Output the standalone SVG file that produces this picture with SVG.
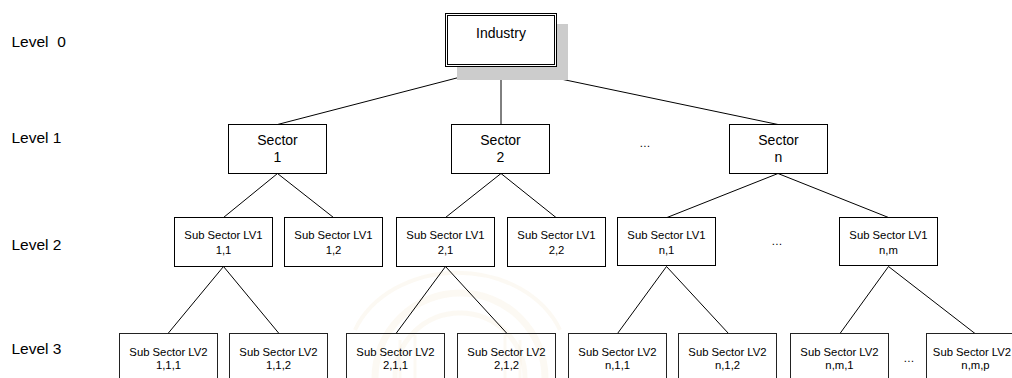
<svg xmlns="http://www.w3.org/2000/svg" width="1012" height="378" viewBox="0 0 1012 378">
<style>
.bg{fill:#ffffff}
.box{fill:#ffffff;stroke:#000000;stroke-width:1}
.box3{fill:none;stroke:#222222;stroke-width:1}
.t{font-family:"Liberation Sans",Arial,sans-serif;fill:#000000;text-anchor:middle}
.t14{font-size:14px}
.t11{font-size:11.3px}
.lvl{font-family:"Liberation Sans",Arial,sans-serif;font-size:15.5px;fill:#000000;white-space:pre}
.c line{stroke:#000000;stroke-width:1;fill:none}
.wm{fill:none;stroke:#f2e2c2;opacity:0.2}
</style>
<rect class="bg" x="0" y="0" width="1012" height="378"/>
<g id="watermark">
<path class="wm" stroke-width="7" d="M375 378 A85 85 0 0 1 545 378"/>
<path class="wm" stroke-width="5" d="M395 378 A65 65 0 0 1 525 378"/>
<path class="wm" stroke-width="4" d="M355 330 A110 90 0 0 1 560 330"/>
<path class="wm" stroke-width="3" d="M400 340 L400 378 M415 335 L415 378 M505 335 L505 378 M520 340 L520 378"/>
</g>
<g id="levels">
<text class="lvl" x="11.5" y="46.5">Level  0</text>
<text class="lvl" x="11.5" y="142.5">Level 1</text>
<text class="lvl" x="11.5" y="249.5">Level 2</text>
<text class="lvl" x="11.5" y="354">Level 3</text>
</g>
<g id="connectors" class="c">
<line x1="501" y1="66.5" x2="277.5" y2="124.5"/>
<line x1="501" y1="66.5" x2="501" y2="124.5"/>
<line x1="501" y1="66.5" x2="778" y2="124.5"/>
<line x1="277.5" y1="173.5" x2="223.5" y2="217.5"/>
<line x1="277.5" y1="173.5" x2="333.5" y2="217.5"/>
<line x1="501" y1="173.5" x2="445.5" y2="217.5"/>
<line x1="501" y1="173.5" x2="556" y2="217.5"/>
<line x1="778" y1="173.5" x2="667" y2="217.5"/>
<line x1="778" y1="173.5" x2="888.5" y2="217.5"/>
<line x1="223.5" y1="266.5" x2="168" y2="333.5"/>
<line x1="223.5" y1="266.5" x2="279" y2="333.5"/>
<line x1="445.5" y1="266.5" x2="396" y2="333.5"/>
<line x1="445.5" y1="266.5" x2="507" y2="333.5"/>
<line x1="666.5" y1="266.5" x2="617.5" y2="333.5"/>
<line x1="666.5" y1="266.5" x2="728.5" y2="333.5"/>
<line x1="888.5" y1="266.5" x2="840" y2="333.5"/>
<line x1="888.5" y1="266.5" x2="975" y2="333.5"/>
</g>
<g id="industry">
<rect x="457" y="24" width="111" height="56" fill="#cccccc"/>
<rect class="box" x="445.5" y="13.5" width="111" height="53"/>
<rect class="box" x="447.5" y="15.5" width="107" height="49"/>
<text class="t t14" x="501" y="37.5">Industry</text>
</g>
<g id="sector1">
<rect class="box" x="228.5" y="124.5" width="98" height="49"/>
<text class="t t14" x="277.5" y="144.5">Sector</text>
<text class="t t14" x="277.5" y="162">1</text>
</g>
<g id="sector2">
<rect class="box" x="451.5" y="124.5" width="98" height="49"/>
<text class="t t14" x="500.5" y="144.5">Sector</text>
<text class="t t14" x="500.5" y="162">2</text>
</g>
<g id="dots1"><text class="t t11" x="645" y="147">…</text></g>
<g id="sectorn">
<rect class="box" x="729.5" y="124.5" width="98" height="49"/>
<text class="t t14" x="778.5" y="144.5">Sector</text>
<text class="t t14" x="778.5" y="162">n</text>
</g>
<g id="sub11">
<rect class="box" x="174.5" y="217.5" width="98" height="49"/>
<text class="t t11" x="223.5" y="239">Sub Sector LV1</text>
<text class="t t11" x="223.5" y="253.5">1,1</text>
</g>
<g id="sub12">
<rect class="box" x="284.5" y="217.5" width="98" height="49"/>
<text class="t t11" x="333.5" y="239">Sub Sector LV1</text>
<text class="t t11" x="333.5" y="253.5">1,2</text>
</g>
<g id="sub21">
<rect class="box" x="396.5" y="217.5" width="98" height="49"/>
<text class="t t11" x="445.5" y="239">Sub Sector LV1</text>
<text class="t t11" x="445.5" y="253.5">2,1</text>
</g>
<g id="sub22">
<rect class="box" x="507.5" y="217.5" width="98" height="49"/>
<text class="t t11" x="556.5" y="239">Sub Sector LV1</text>
<text class="t t11" x="556.5" y="253.5">2,2</text>
</g>
<g id="subn1">
<rect class="box" x="617.5" y="217.5" width="98" height="48"/>
<text class="t t11" x="666.5" y="239">Sub Sector LV1</text>
<text class="t t11" x="666.5" y="253.5">n,1</text>
</g>
<g id="dots2"><text class="t t11" x="777" y="245">…</text></g>
<g id="subnm">
<rect class="box" x="839.5" y="217.5" width="98" height="48"/>
<text class="t t11" x="888.5" y="239">Sub Sector LV1</text>
<text class="t t11" x="888.5" y="253.5">n,m</text>
</g>
<g id="sub111">
<rect class="box3" x="119.5" y="333.5" width="98" height="60"/>
<text class="t t11" x="168.5" y="355.5">Sub Sector LV2</text>
<text class="t t11" x="168.5" y="369">1,1,1</text>
</g>
<g id="sub112">
<rect class="box3" x="229.5" y="333.5" width="98" height="60"/>
<text class="t t11" x="278.5" y="355.5">Sub Sector LV2</text>
<text class="t t11" x="278.5" y="369">1,1,2</text>
</g>
<g id="sub211">
<rect class="box3" x="346.5" y="333.5" width="98" height="60"/>
<text class="t t11" x="395.5" y="355.5">Sub Sector LV2</text>
<text class="t t11" x="395.5" y="369">2,1,1</text>
</g>
<g id="sub212">
<rect class="box3" x="457.5" y="333.5" width="98" height="60"/>
<text class="t t11" x="506.5" y="355.5">Sub Sector LV2</text>
<text class="t t11" x="506.5" y="369">2,1,2</text>
</g>
<g id="subn11">
<rect class="box3" x="568.5" y="333.5" width="98" height="60"/>
<text class="t t11" x="617.5" y="355.5">Sub Sector LV2</text>
<text class="t t11" x="617.5" y="369">n,1,1</text>
</g>
<g id="subn12">
<rect class="box3" x="678.5" y="333.5" width="98" height="60"/>
<text class="t t11" x="727.5" y="355.5">Sub Sector LV2</text>
<text class="t t11" x="727.5" y="369">n,1,2</text>
</g>
<g id="subnm1">
<rect class="box3" x="790.5" y="333.5" width="98" height="60"/>
<text class="t t11" x="839.5" y="355.5">Sub Sector LV2</text>
<text class="t t11" x="839.5" y="369">n,m,1</text>
</g>
<g id="dots3"><text class="t t11" x="909" y="362">…</text></g>
<g id="subnmp">
<rect class="box3" x="926.5" y="333.5" width="98" height="60"/>
<text class="t t11" x="972" y="355.5">Sub Sector LV2</text>
<text class="t t11" x="975.5" y="369">n,m,p</text>
</g>
</svg>
